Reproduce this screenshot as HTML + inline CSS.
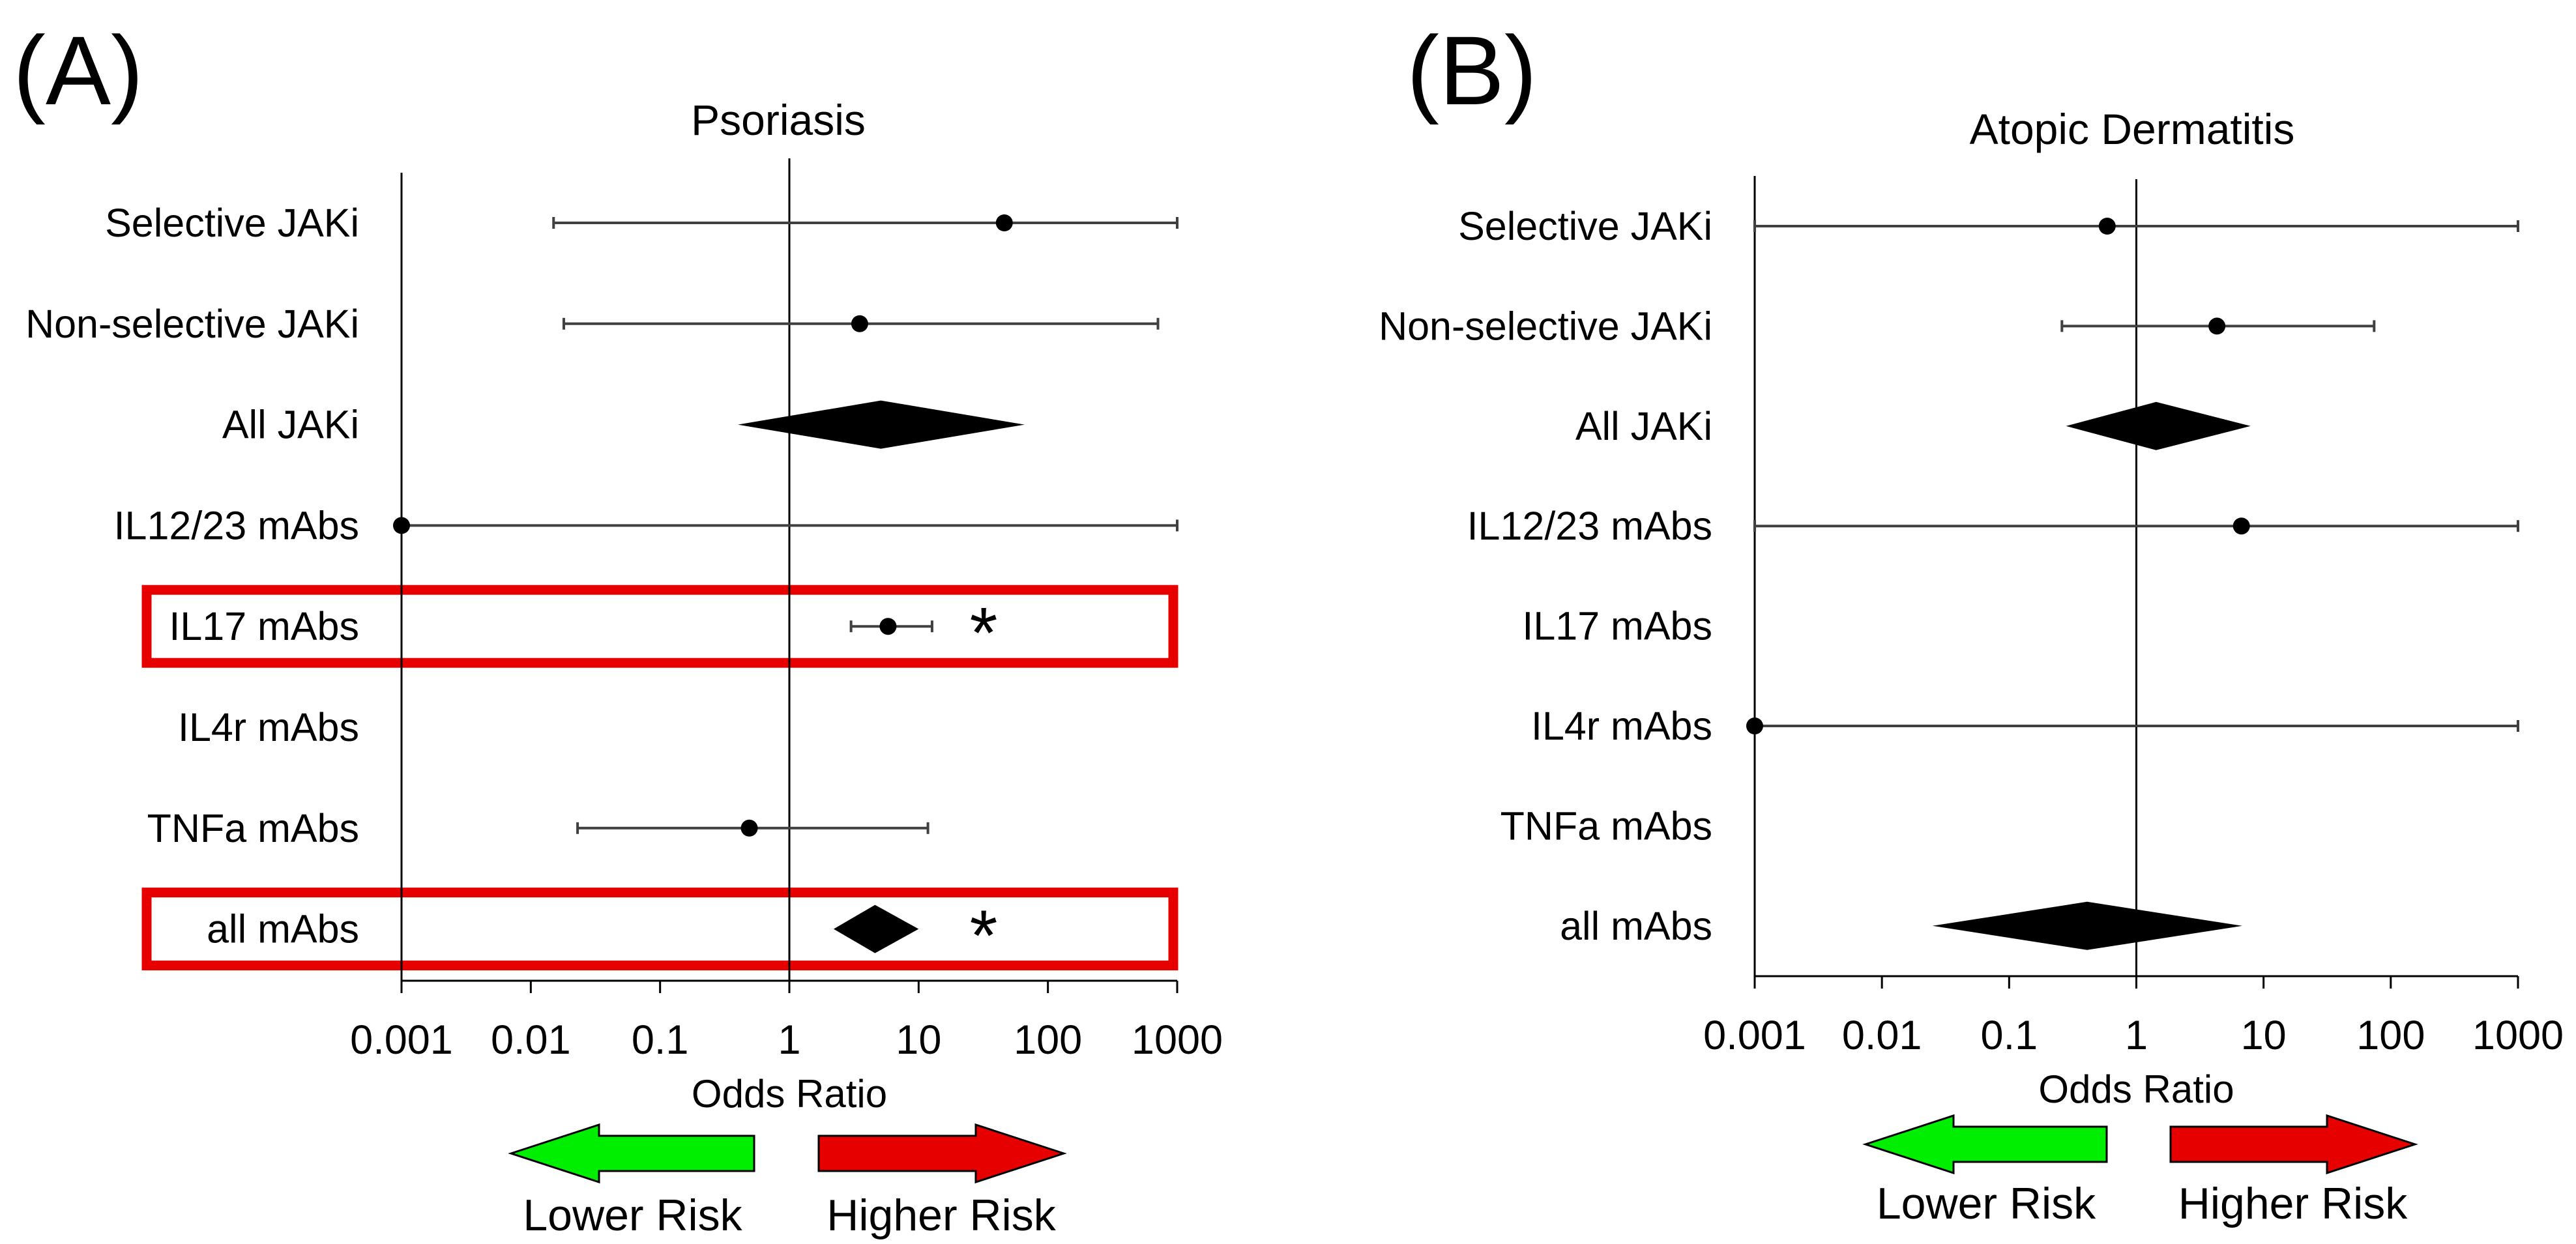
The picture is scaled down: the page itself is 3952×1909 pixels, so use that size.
<!DOCTYPE html>
<html><head><meta charset="utf-8"><style>
html,body{margin:0;padding:0;background:#fff}
svg{display:block}
text{font-family:"Liberation Sans",sans-serif;fill:#000}
</style></head><body>
<svg id="chart" width="3952" height="1909" viewBox="0 0 3952 1909" xmlns="http://www.w3.org/2000/svg">
</svg>
<script>
// ---- data ----
const categories = ["Selective JAKi","Non-selective JAKi","All JAKi","IL12/23 mAbs","IL17 mAbs","IL4r mAbs","TNFa mAbs","all mAbs"];
const tickValues = [0.001,0.01,0.1,1,10,100,1000];
const tickLabels = ["0.001","0.01","0.1","1","10","100","1000"];
// Panel A: Psoriasis (null = no estimate)
const psoPoint = [46, 3.5, 5.1, 0.001, 5.8, null, 0.49, 4.6];
const psoLow   = [0.015, 0.018, 0.4, 0.001, 3.0, null, 0.023, 2.2];
const psoHigh  = [1000, 710, 66, 1000, 12.7, null, 11.8, 10];
const psoDiamond = [false,false,true,false,false,false,false,true];
const psoSignificant = [false,false,false,false,true,false,false,true];
// Panel B: Atopic Dermatitis
const adPoint = [0.59, 4.3, 1.43, 6.7, null, 0.001, null, 0.41];
const adLow   = [0.001, 0.26, 0.28, 0.001, null, 0.001, null, 0.025];
const adHigh  = [1000, 74, 7.9, 1000, null, 1000, null, 6.8];
const adDiamond = [false,false,true,false,false,false,false,true];

const NS="http://www.w3.org/2000/svg";
const svg=document.getElementById('chart');
function mk(tag,attrs,parent,txt){const e=document.createElementNS(NS,tag);for(const k in attrs)e.setAttribute(k,attrs[k]);if(txt!==undefined)e.textContent=txt;(parent||svg).appendChild(e);return e;}

function panel(cfg){
  const g=mk('g',{});
  
  
  const xs=v=>cfg.x0+(Math.log10(v)+3)/6*(cfg.x1-cfg.x0);
  const ys=i=>cfg.yTop+i*cfg.rowH;
  const L=mk('text',{x:cfg.letterX,y:160,'font-size':150},g,cfg.letter);
  
  
  const T=mk('text',{x:cfg.titleX,y:cfg.titleY,'font-size':66,'text-anchor':'middle'},g,cfg.title);
  
  
  (cfg.sig||[]).forEach((s,i)=>{ if(!s)return;
    const r=mk('rect',{x:cfg.boxX0,y:ys(i)-56,width:cfg.boxX1-cfg.boxX0,height:112,fill:'none',stroke:'#e60000','stroke-width':15},g);
    
    
  });
  const ya=mk('line',{x1:cfg.x0,y1:cfg.axTop,x2:cfg.x0,y2:cfg.axY,stroke:'#000','stroke-width':3},g);
  
  
  const ref=mk('line',{x1:xs(1),y1:cfg.refTop,x2:xs(1),y2:cfg.axY,stroke:'#000','stroke-width':3},g);
  
  
  const xa=mk('line',{x1:cfg.x0,y1:cfg.axY,x2:cfg.x1,y2:cfg.axY,stroke:'#000','stroke-width':3},g);
  
  
  tickValues.forEach((v,i)=>{
    const t=mk('line',{x1:xs(v),y1:cfg.axY,x2:xs(v),y2:cfg.axY+19,stroke:'#000','stroke-width':3},g);
    
    
    const tl=mk('text',{x:xs(v),y:cfg.axY+112,'font-size':63,'text-anchor':'middle'},g,tickLabels[i]);
    
    
  });
  const xt=mk('text',{x:xs(1),y:cfg.axY+194,'font-size':60,'text-anchor':'middle'},g,'Odds Ratio');
  
  
  categories.forEach((c,i)=>{
    const y=ys(i);
    const lab=mk('text',{x:cfg.labX,y:y+21,'font-size':61,'text-anchor':'end'},g,c);
    
    
    const p=cfg.point[i]; if(p===null)return;
    if(cfg.diamond[i]){
      const d=mk('polygon',{points:`${xs(cfg.low[i])},${y} ${xs(p)},${y-37} ${xs(cfg.high[i])},${y} ${xs(p)},${y+37}`,fill:'#000'},g);
      
      
    } else {
      const l=mk('line',{x1:xs(cfg.low[i]),y1:y,x2:xs(cfg.high[i]),y2:y,stroke:'#404040','stroke-width':4},g);
      
      
      [cfg.low[i],cfg.high[i]].forEach(v=>{
        const cp=mk('line',{x1:xs(v),y1:y-9,x2:xs(v),y2:y+9,stroke:'#404040','stroke-width':4},g);
        
        
      });
      const pt=mk('circle',{cx:xs(p),cy:y,r:13,fill:'#000'},g);
      
      
    }
    if(cfg.sig&&cfg.sig[i]){
      const s=mk('text',{x:cfg.starX,y:y+48,'font-size':110,'text-anchor':'middle'},g,'*');
      
      
    }
  });
  const ay=cfg.arrowY;
  const ga=cfg.green, ra=cfg.red;
  const gp=mk('polygon',{points:`${ga[0]},${ay} ${ga[0]+135},${ay-44} ${ga[0]+135},${ay-27} ${ga[1]},${ay-27} ${ga[1]},${ay+27} ${ga[0]+135},${ay+27} ${ga[0]+135},${ay+44}`,fill:'#00ee00',stroke:'#000','stroke-width':3},g);
  
  
  const rp=mk('polygon',{points:`${ra[1]},${ay} ${ra[1]-135},${ay-44} ${ra[1]-135},${ay-27} ${ra[0]},${ay-27} ${ra[0]},${ay+27} ${ra[1]-135},${ay+27} ${ra[1]-135},${ay+44}`,fill:'#e60000',stroke:'#000','stroke-width':3},g);
  
  
  const lt=mk('text',{x:(ga[0]+ga[1])/2,y:cfg.riskTextY,'font-size':68,'text-anchor':'middle'},g,'Lower Risk');
  
  
  const ht=mk('text',{x:(ra[0]+ra[1])/2,y:cfg.riskTextY,'font-size':68,'text-anchor':'middle'},g,'Higher Risk');
  
  
}

panel({name:'panel-a-psoriasis',letter:'(A)',letterX:20,title:'Psoriasis',titleX:1194,titleY:207,
  x0:616,x1:1806,yTop:342,rowH:154.8,axY:1505,axTop:265,refTop:243,labX:551,
  point:psoPoint,low:psoLow,high:psoHigh,diamond:psoDiamond,sig:psoSignificant,
  boxX0:225,boxX1:1800,starX:1509,arrowY:1770,green:[784,1157],red:[1256,1632],riskTextY:1888});
panel({name:'panel-b-atopic-dermatitis',letter:'(B)',letterX:2158,title:'Atopic Dermatitis',titleX:3271,titleY:221,
  x0:2692,x1:3863,yTop:347,rowH:153.4,axY:1498,axTop:270,refTop:275,labX:2627,
  point:adPoint,low:adLow,high:adHigh,diamond:adDiamond,sig:null,
  arrowY:1756,green:[2862,3232],red:[3330,3705],riskTextY:1870});
</script>
</body></html>
